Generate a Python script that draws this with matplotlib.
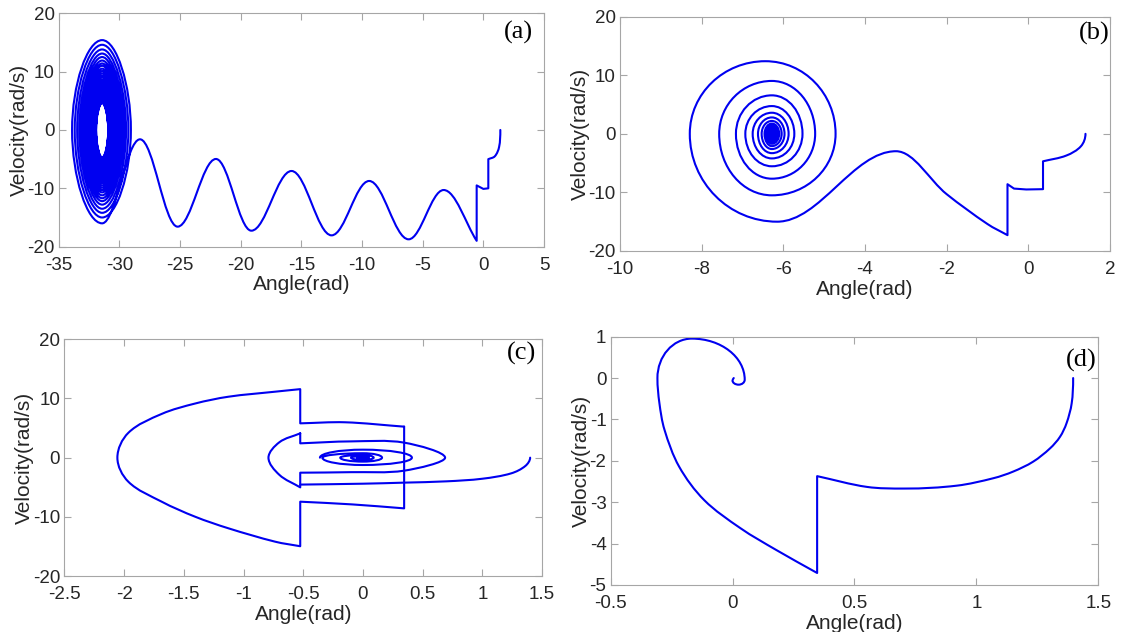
import numpy as np
import matplotlib
matplotlib.use('Agg')
import matplotlib.pyplot as plt
from matplotlib.path import Path
from matplotlib.patches import PathPatch
from matplotlib.ticker import FuncFormatter

plt.rcParams['font.family'] = ['Liberation Sans Narrow', 'Liberation Sans', 'DejaVu Sans']

# key points; kinds: h = horizontal tangent, v = vertical tangent,
# s = smooth pass-through, c = corner (jump)

# (a)
a_x = [1.40, 1.30, 0.95, 0.41, 0.41, 0.0, -0.55, -0.55, -3.27, -6.16, -9.41, -12.51,
       -15.81, -19.12, -22.04, -25.20, -28.30]
a_y = [0.0, -2.9, -4.5, -5.0, -10.0, -10.1, -9.5, -19.0, -10.29, -18.74, -8.74, -18.06,
       -7.03, -17.26, -4.97, -16.57, -1.6]
a_k = 'vssccccc' + 'hhhhhhhhh'
a_center = -31.42
a_bot = [-16.0, -15.0, -14.2, -13.5, -12.8, -12.2, -11.7, -11.2, -10.7, -10.3, -9.9,
         -9.5, -9.1, -8.8, -8.45, -8.1, -7.8, -7.5, -7.3, -7.0, -6.8, -6.6, -6.4, -6.2,
         -6.0, -5.8, -5.6, -5.45, -5.3, -5.15, -5.0, -4.85, -4.7]
a_left = [-33.90, -33.68, -33.48, -33.30, -33.14, -33.00, -32.88, -32.77, -32.67, -32.58,
          -32.50, -32.43, -32.37, -32.31, -32.26, -32.22, -32.18, -32.15, -32.12, -32.09,
          -32.06, -32.04, -32.02, -32.01, -31.99, -31.98, -31.97, -31.96, -31.95, -31.94,
          -31.93, -31.925, -31.92]
a_top = [15.4, 14.6, 13.8, 13.1, 12.5, 11.9, 11.4, 11.0, 10.5, 10.1, 9.7, 9.3, 9.0, 8.6,
         8.3, 8.0, 7.7, 7.4, 7.2, 6.9, 6.7, 6.5, 6.3, 6.1, 5.9, 5.7, 5.5, 5.35, 5.2, 5.05,
         4.9, 4.75, 4.6]
a_right = [-29.05, -29.26, -29.45, -29.62, -29.77, -29.90, -30.02, -30.12, -30.21, -30.29,
           -30.36, -30.43, -30.49, -30.54, -30.58, -30.62, -30.66, -30.69, -30.72, -30.745,
           -30.77, -30.79, -30.81, -30.83, -30.845, -30.86, -30.87, -30.88, -30.89, -30.90,
           -30.91, -30.915, -30.92]

# (b)
b_x = [1.40, 1.29, 0.93, 0.36, 0.36, -0.05, -0.35, -0.51, -0.51, -1.0, -2.0,
       -3.24, -6.15, -8.29, -6.44, -4.72]
b_y = [0.0, -2.11, -3.71, -4.69, -9.45, -9.5, -9.35, -8.6, -17.3, -15.4, -10.3,
       -2.97, -15.0, 0.0, 12.4, 0.0]
b_k = 'vss' + 'cccccc' + 'ss' + 'hh' + 'vhv'
b_center = -6.28
b_bot = [-10.5, -7.66, -5.54, -4.2, -3.3, -2.6, -2.1, -1.7, -1.4, -1.1, -0.9, -0.7,
         -0.55, -0.42, -0.32]
b_left = [-7.57, -7.16, -6.93, -6.75, -6.62, -6.53, -6.46, -6.41, -6.38, -6.35, -6.33,
          -6.32, -6.31, -6.30, -6.29]
b_top = [9.03, 6.57, 4.74, 3.6, 2.8, 2.2, 1.75, 1.4, 1.1, 0.9, 0.7, 0.55, 0.42, 0.32, 0.25]
b_right = [-5.22, -5.53, -5.73, -5.87, -5.97, -6.04, -6.10, -6.14, -6.17, -6.20, -6.22,
           -6.24, -6.25, -6.26, -6.27]

# (c)
c_start_x = [1.40, 1.36, 1.24, 1.00, 0.70, 0.345, 0.0, -0.525]
c_start_y = [0.0, -1.4, -2.66, -3.56, -4.0, -4.22, -4.4, -4.55]
c_start_k = 'vssssssc'
c_outer_x = [0.345, 0.345, -0.09, -0.525, -0.525, -0.735, -1.126, -1.405, -1.684, -1.964,
             -2.056, -1.964, -1.684, -1.405, -1.126, -0.735, -0.525, -0.525, -0.15, 0.345]
c_outer_y = [5.24, -8.57, -7.9, -7.44, -14.97, -14.2, -11.94, -9.98, -7.45, -4.07,
             0.0, 4.2, 7.4, 9.15, 10.3, 11.15, 11.58, 5.80, 5.98, 5.24]
c_outer_k = 'ccscc' + 'sssss' + 'vssss' + 'sccsc'
c_arrow_x = [-0.525, -0.525, -0.1, 0.345, 0.688, 0.345, -0.1, -0.525, -0.525, -0.70,
             -0.791, -0.70, -0.525]
c_arrow_y = [4.11, 2.42, 2.75, 2.54, 0.0, -2.2, -2.45, -2.54, -5.02, -2.9, 0.0, 2.6, 4.11]
c_arrow_k = 'ccssvsscc' + 'svsc'
c_in_x = [-0.36, 0.0, 0.41]
c_in_y = [0.0, 1.35, 0.0]
c_center = 0.0
c_bot = [-1.24, -0.67, -0.39, -0.22, -0.12, -0.06]
c_left = [-0.34, -0.19, -0.10, -0.05, -0.025, -0.012]
c_top = [0.75, 0.45, 0.26, 0.14, 0.07, 0.035]
c_right = [0.16, 0.09, 0.05, 0.025, 0.012, 0.006]

# (d)
d_x = [1.397, 1.391, 1.370, 1.343, 1.302, 1.233, 1.151, 1.07, 0.92, 0.707, 0.551, 0.347,
       0.347, 0.181, 0.033, -0.116, -0.219, -0.279, -0.300, -0.308, -0.167, 0.05, 0.025,
       0.0, 0.005]
d_y = [0.0, -0.61, -1.09, -1.42, -1.70, -2.02, -2.26, -2.42, -2.60, -2.67, -2.63, -2.37,
       -4.71, -4.16, -3.63, -2.95, -2.14, -1.25, -0.6, 0.0, 0.953, -0.04, -0.16, -0.06, 0.0]
d_k = 'vssssssss' + 'hscc' + 'ssssss' + 'vhvhvc'

line_c = '#0000f0'
grey = '#a6a6a6'
text_c = '#262626'


def handle(Q, kinds, j, d, k):
    # control-point offset at point j for the segment with chord d (pixel units)
    kind = kinds[j]
    if kind == 'h':
        return np.array([k * d[0], 0.0])
    if kind == 'v':
        return np.array([0.0, k * d[1]])
    if kind == 's' and 0 < j < len(Q) - 1:
        t = Q[j + 1] - Q[j - 1]
        return t / np.hypot(*t) * np.hypot(*d) / 3.0
    return d / 3.0


def smooth(xs, ys, kinds, scale, k_hv=0.5523):
    S = np.array(scale, dtype=float)
    Q = np.column_stack([xs, ys]).astype(float) * S
    verts = [Q[0] / S]
    codes = [Path.MOVETO]
    for i in range(len(Q) - 1):
        a, b = kinds[i], kinds[i + 1]
        d = Q[i + 1] - Q[i]
        if a == 'c' and b == 'c':
            verts.append(Q[i + 1] / S)
            codes.append(Path.LINETO)
            continue
        k = k_hv if {a, b} == {'h', 'v'} else 0.36
        c1 = Q[i] + handle(Q, kinds, i, d, k)
        c2 = Q[i + 1] - handle(Q, kinds, i + 1, d, k)
        verts += [c1 / S, c2 / S, Q[i + 1] / S]
        codes += [Path.CURVE4] * 3
    return Path(verts, codes)


def loops(cx, bots, lefts, tops, rights):
    xs, ys = [], []
    for b, l, t, r in zip(bots, lefts, tops, rights):
        xs += [cx, l, cx, r]
        ys += [b, 0.0, t, 0.0]
    return xs, ys, 'hvhv' * len(bots)


def draw(ax, xs, ys, kinds, k_hv=0.5523):
    bb = ax.get_window_extent()
    x0, x1 = ax.get_xlim()
    y0, y1 = ax.get_ylim()
    scale = (bb.width / (x1 - x0), bb.height / (y1 - y0))
    ax.add_patch(PathPatch(smooth(xs, ys, kinds, scale, k_hv), fill=False, ec=line_c,
                           lw=1.5, joinstyle='round', capstyle='round'))


def style(ax, xlim, xticks, ylim, yticks, tag, tx, ty):
    ax.set_xlim(xlim)
    ax.set_ylim(ylim)
    ax.set_xticks(xticks)
    ax.set_yticks(yticks)
    fmt = FuncFormatter(lambda v, p: '%g' % v)
    ax.xaxis.set_major_formatter(fmt)
    ax.yaxis.set_major_formatter(fmt)
    for s in ax.spines.values():
        s.set_color(grey)
        s.set_linewidth(0.8)
    ax.tick_params(direction='in', top=True, right=True, length=5, width=0.8,
                   color=grey, labelcolor=text_c, labelsize=13.5)
    ax.tick_params(axis='x', pad=7.5)
    ax.tick_params(axis='y', pad=3)
    ax.set_xlabel('Angle(rad)', fontsize=15, color=text_c, labelpad=1)
    ax.set_ylabel('Velocity(rad/s)', fontsize=15, color=text_c, labelpad=-1)
    ax.text(tx, ty, tag, transform=ax.transAxes, ha='center', va='center',
            family='Liberation Serif', fontsize=19)


fig = plt.figure(figsize=(11.27, 6.32), dpi=100)

ax = fig.add_axes([0.0521, 0.6097, 0.4306, 0.3693])
style(ax, (-35, 5), [-35, -30, -25, -20, -15, -10, -5, 0, 5], (-20, 20), [-20, -10, 0, 10, 20],
      '(a)', 0.948, 0.919)
sx, sy, sk = loops(a_center, a_bot, a_left, a_top, a_right)
draw(ax, a_x + sx, a_y + sy, a_k + sk, k_hv=0.5)

ax = fig.add_axes([0.5501, 0.6029, 0.4348, 0.3707])
style(ax, (-10, 2), [-10, -8, -6, -4, -2, 0, 2], (-20, 20), [-20, -10, 0, 10, 20],
      '(b)', 0.967, 0.93)
sx, sy, sk = loops(b_center, b_bot, b_left, b_top, b_right)
draw(ax, b_x + sx, b_y + sy, b_k + sk)

ax = fig.add_axes([0.0571, 0.0886, 0.4239, 0.3745])
style(ax, (-2.5, 1.5), [-2.5, -2, -1.5, -1, -0.5, 0, 0.5, 1, 1.5], (-20, 20),
      [-20, -10, 0, 10, 20], '(c)', 0.956, 0.942)
draw(ax, c_start_x, c_start_y, c_start_k)
draw(ax, c_outer_x, c_outer_y, c_outer_k)
draw(ax, c_arrow_x, c_arrow_y, c_arrow_k)
sx, sy, sk = loops(c_center, c_bot, c_left, c_top, c_right)
draw(ax, c_in_x + sx, c_in_y + sy, 'vhv' + sk)

ax = fig.add_axes([0.5418, 0.0744, 0.4327, 0.3929])
style(ax, (-0.5, 1.5), [-0.5, 0, 0.5, 1, 1.5], (-5, 1), [-5, -4, -3, -2, -1, 0, 1],
      '(d)', 0.966, 0.906)
draw(ax, d_x, d_y, d_k)

fig.savefig('out.png', dpi=100)
